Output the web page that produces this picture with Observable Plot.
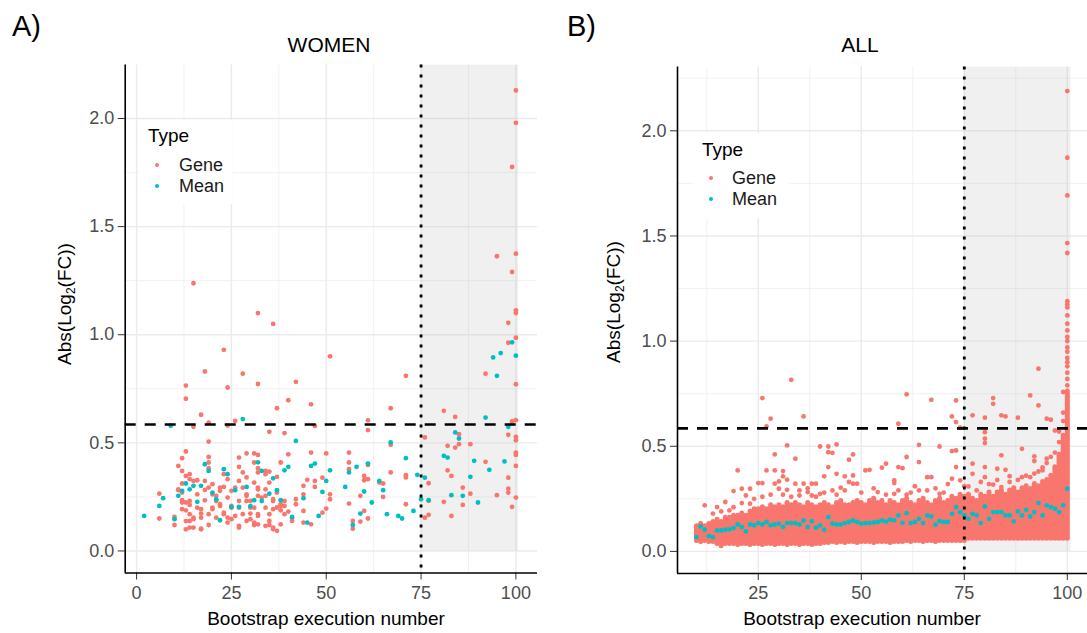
<!DOCTYPE html>
<html><head><meta charset="utf-8">
<script src="https://cdn.jsdelivr.net/npm/d3@7"></script>
<script src="https://cdn.jsdelivr.net/npm/@observablehq/plot@0.6"></script>
<style>
body{margin:0;background:#fff;font-family:"Liberation Sans",Arial,sans-serif}
#root{position:relative;width:1087px;height:633px;overflow:hidden;background:#fff}
.t{position:absolute;white-space:nowrap;line-height:1;color:#000}
</style></head>
<body><div id="root"></div>
<script>
// ---------- DATA ----------
const panelTitles = ["WOMEN", "ALL"];
const panelLetters = ["A)", "B)"];
const typeLabels = ["Gene", "Mean"];
const xTicksA = [0, 25, 50, 75, 100];
const xTicksB = [25, 50, 75, 100];
const yTicks = [0, 0.5, 1, 1.5, 2];
const threshold = 0.585;   // dashed line
const cutoff = 75;         // dotted line

// WOMEN – Gene points [execution, abs log2FC]
const womenGene = [
[32,1.10],[36,1.05],[23,0.93],[51,0.90],[18,0.83],[28,0.82],[71,0.81],[13,0.765],[24,0.756],[32,0.772],[42,0.782],
[13,0.704],[40,0.697],[46,0.678],[37,0.660],[67,0.660],[17,0.630],[19,0.593],[26,0.602],[24,0.580],[15,0.574],
[61,0.604],[61,0.559],[35,0.551],[39,0.545],[19,0.506],[47,0.578],[67,0.491],[15,1.238],
[100,2.13],[100,1.98],[99,1.776],[100,1.375],[95,1.363],[99,1.29],[100,1.113],[100,1.10],[98,1.055],[100,0.986],[98,0.963],
[92,0.82],[100,0.771],[81,0.648],[84,0.62],[76,0.525],[82,0.486],[84,0.478],[85,0.494],[85,0.540],[88,0.494],
[98,0.537],[99,0.599],[100,0.605],[99,0.59],[100,0.528],[100,0.512],[100,0.455],[100,0.444],[100,0.393],[98,0.339],
[98,0.288],[98,0.270],[99,0.204],[100,0.247],[95,0.258],[92,0.412],[88,0.265],[86,0.293],[86,0.213],[83,0.347],
[82,0.373],[81,0.227],[83,0.162],[77,0.313],[77,0.232],[77,0.167],[76,0.154],
[13,0.46],[12,0.429],[11,0.393],[12,0.37],[13,0.347],[14,0.332],[16,0.327],[11,0.281],[12,0.27],[6,0.265],[6,0.15],
[10,0.157],[10,0.12],[13,0.10],[14,0.139],[15,0.108],[15,0.154],[12,0.193],[12,0.235],[13,0.224],[14,0.213],[17,0.193],
[17,0.173],[17,0.103],[19,0.12],[18,0.324],[18,0.282],[20,0.309],[19,0.435],[19,0.409],[19,0.383],[21,0.255],[21,0.231],
[20,0.2],[22,0.208],[23,0.177],[24,0.154],[25,0.147],[24,0.332],[23,0.296],[22,0.278],[25,0.20],[27,0.116],[27,0.432],
[27,0.389],[29,0.451],[28,0.363],[29,0.34],[29,0.255],[29,0.231],[30,0.2],[30,0.173],[30,0.147],[31,0.12],[31,0.451],
[31,0.409],[32,0.363],[31,0.316],[32,0.285],[27,0.324],[28,0.293],[26,0.162],[25,0.278],
[11,0.285],[12,0.224],[12,0.312],[13,0.188],[13,0.138],[14,0.355],[14,0.17],[14,0.108],[14,0.231],[15,0.147],[15,0.324],
[16,0.262],[16,0.2],[17,0.1],[17,0.154],[18,0.234],[19,0.293],[19,0.17],[20,0.193],[20,0.262],[21,0.154],[22,0.293],
[22,0.216],[23,0.355],[23,0.17],[24,0.247],[24,0.131],[25,0.208],[26,0.293],[27,0.108],[27,0.231],[27,0.2],[28,0.17],
[29,0.262],[29,0.139],[30,0.231],[31,0.2],[31,0.131],[32,0.293],[32,0.17],[33,0.247],[34,0.116],[34,0.355],[34,0.2],
[35,0.17],[35,0.139],[36,0.1],[36,0.231],[37,0.27],[38,0.208],[39,0.17],[39,0.231],[40,0.447],[41,0.139],[42,0.216],
[44,0.262],
[32,0.444],[32,0.383],[34,0.37],[35,0.367],[35,0.316],[37,0.343],[38,0.409],[34,0.285],[34,0.255],[36,0.239],[36,0.193],
[37,0.201],[38,0.188],[38,0.216],[39,0.208],[40,0.182],[32,0.255],[32,0.162],[32,0.123],[35,0.12],[36,0.108],[37,0.093],
[38,0.123],[41,0.154],[42,0.239],[44,0.185],[44,0.301],[46,0.455],[45,0.329],[47,0.324],[47,0.296],[49,0.339],[50,0.451],
[51,0.262],[51,0.239],[50,0.196],[49,0.177],[46,0.123],[44,0.131],[56,0.455],[56,0.409],[56,0.378],[56,0.219],[57,0.139],
[57,0.103],[59,0.255],[59,0.136],[60,0.347],[60,0.327],[61,0.398],[61,0.332],[60,0.185],[61,0.15],[64,0.316],[65,0.312],
[65,0.25],[67,0.363],[71,0.35],[71,0.34],[71,0.216]
];
// WOMEN – Mean points
const womenMean = [
[2,0.162],[6,0.208],[7,0.244],[10,0.147],[11,0.255],[12,0.278],[13,0.312],[14,0.285],[15,0.301],[16,0.227],[17,0.301],
[18,0.401],[19,0.37],[20,0.27],[21,0.239],[22,0.142],[23,0.378],[24,0.355],[26,0.281],[25,0.204],[27,0.204],[29,0.296],
[30,0.207],[31,0.235],[32,0.41],[28,0.61],[9,0.579],[33,0.231],
[33,0.37],[36,0.336],[37,0.281],[35,0.265],[38,0.235],[40,0.389],[39,0.373],[42,0.509],[41,0.157],[44,0.244],[45,0.131],
[46,0.393],[47,0.404],[48,0.162],[49,0.273],[50,0.324],[51,0.373],[55,0.296],[56,0.363],[58,0.389],[57,0.12],[59,0.173],
[60,0.275],[61,0.404],[62,0.224],[64,0.324],[65,0.281],[66,0.17],[67,0.502],[69,0.162],[70,0.15],[71,0.429],[73,0.185],
[74,0.352],[75,0.239],
[99,0.965],[100,0.903],[94,0.895],[96,0.915],[95,0.81],[92,0.617],[98,0.574],[84,0.548],[85,0.52],[81,0.44],[82,0.432],
[89,0.417],[97,0.414],[93,0.375],[88,0.343],[76,0.339],[77,0.235],[83,0.258],[86,0.255],[90,0.224]
];

// ALL – dense core of Gene points: per execution, lower and upper edge of the solid band
const allCoreX = [10,11,12,13,14,15,16,17,18,19,20,21,22,23,24,25,26,27,28,29,30,31,32,33,34,35,36,37,38,39,40,
41,42,43,44,45,46,47,48,49,50,51,52,53,54,55,56,57,58,59,60,61,62,63,64,65,66,67,68,69,70,
71,72,73,74,75,76,77,78,79,80,81,82,83,84,85,86,87,88,89,90,91,92,93,94,95,96,97,98,99,100];
const allCoreLo = [0.05,0.045,0.05,0.045,0.045,0.035,0.025,0.035,0.035,0.035,0.03,0.035,0.035,0.03,0.035,0.035,0.03,0.035,0.035,0.03,0.035,
0.035,0.03,0.035,0.035,0.03,0.035,0.035,0.03,0.035,0.035,0.04,0.04,0.045,0.04,0.045,0.04,0.045,0.045,0.04,0.045,
0.045,0.045,0.04,0.045,0.045,0.045,0.04,0.045,0.045,0.045,0.05,0.045,0.05,0.05,0.045,0.05,0.05,0.045,0.05,0.05,
0.05,0.05,0.05,0.05,0.05,0.06,0.06,0.06,0.06,0.06,0.06,0.06,0.06,0.06,0.06,0.06,0.06,0.06,0.06,0.06,0.06,0.06,0.06,0.06,0.06,0.06,0.06,0.06,0.06,0.06];
const allCoreHi = [0.12,0.13,0.12,0.13,0.14,0.15,0.14,0.16,0.16,0.17,0.17,0.18,0.17,0.19,0.2,0.2,0.21,0.2,0.22,0.21,0.22,
0.21,0.23,0.22,0.23,0.22,0.21,0.23,0.22,0.21,0.22,0.23,0.22,0.21,0.23,0.24,0.22,0.22,0.23,0.24,0.23,
0.22,0.24,0.25,0.23,0.24,0.22,0.24,0.23,0.22,0.24,0.25,0.23,0.22,0.24,0.25,0.23,0.22,0.24,0.25,0.23,
0.24,0.26,0.25,0.27,0.26,0.27,0.25,0.24,0.27,0.26,0.28,0.26,0.28,0.29,0.27,0.29,0.3,0.28,0.3,0.31,0.29,0.32,0.31,0.33,0.34,0.36,0.4,0.46,0.55,0.76];
// ALL – scattered Gene points above the core
const allGene = [
[33,0.816],[26,0.729],[28,0.631],[27,0.594],[36,0.642],[32,0.504],[29,0.461],[34,0.441],[40,0.499],[42,0.499],[44,0.509],
[42,0.472],[43,0.469],[48,0.461],[47,0.436],[42,0.401],[46,0.357],[48,0.361],[20,0.385],[27,0.385],[29,0.385],[31,0.382],
[31,0.357],[32,0.341],[32,0.293],[30,0.333],[30,0.298],[29,0.322],[26,0.325],[25,0.325],[23,0.298],[21,0.298],[19,0.287],
[17,0.235],[12,0.219],[36,0.322],[38,0.322],[39,0.322],[40,0.274],[43,0.29],[37,0.282],[34,0.322],[35,0.266],[38,0.266],
[47,0.33],[45,0.303],[49,0.322],[41,0.357],[44,0.369],[15,0.211],[18,0.195],[22,0.266],[23,0.227],
[61,0.747],[67,0.721],[73,0.718],[82,0.729],[82,0.702],[91,0.742],[93,0.869],[93,0.694],[59,0.607],[72,0.642],[73,0.615],
[74,0.588],[77,0.647],[80,0.636],[84,0.647],[85,0.642],[88,0.636],[95,0.631],[96,0.626],[80,0.567],[80,0.536],[80,0.515],
[97,0.575],[64,0.507],[69,0.499],[72,0.477],[73,0.48],[89,0.488],[61,0.449],[84,0.457],[92,0.452],[95,0.441],[51,0.385],
[55,0.398],[56,0.417],[59,0.401],[60,0.396],[64,0.425],[73,0.401],[77,0.417],[80,0.401],[83,0.393],[85,0.388],[92,0.43],
[94,0.385],[48,0.322],[52,0.388],[58,0.338],[58,0.325],[66,0.353],[67,0.353],[72,0.346],[74,0.338],[77,0.369],[80,0.353],
[82,0.318],[86,0.358],[89,0.353],[91,0.353],[64,0.29],[69,0.274],[76,0.309],[84,0.306],[87,0.29],[91,0.3],[54,0.282],
[58,0.274],[61,0.27],[99,0.758],
[14,0.18],[16,0.19],[19,0.21],[21,0.23],[24,0.25],[26,0.26],[28,0.27],[31,0.27],[33,0.26],[35,0.29],[37,0.3],[39,0.26],
[41,0.28],[44,0.27],[46,0.29],[50,0.28],[53,0.3],[56,0.27],[59,0.29],[62,0.28],[63,0.31],[66,0.29],[68,0.3],[70,0.28],
[71,0.32],[75,0.31],[78,0.29],[79,0.33],[81,0.32],[83,0.34],[86,0.33],[88,0.34],[90,0.36],[92,0.37],[93,0.38],[94,0.4],
[95,0.42],[96,0.45],[97,0.47],[98,0.52],[99,0.62],[99,0.66],[98,0.57],
[100,2.189],[100,1.872],[100,1.693],[100,1.466],[100,1.419],[100,1.19],[100,1.175],[100,1.16],[100,1.122],[100,1.083],
[100,1.051],[100,1.02],[100,1.0],[100,0.97],[100,0.95],[100,0.92],[100,0.9],[100,0.88],[100,0.85],[100,0.82],[100,0.79]
];
// ALL – Mean points
const allMean = [
[10,0.068],[11,0.119],[12,0.103],[13,0.073],[14,0.068],[15,0.10],[16,0.10],[17,0.103],[18,0.105],[19,0.111],[20,0.128],
[21,0.116],[22,0.095],[23,0.128],[24,0.124],[25,0.135],[26,0.128],[27,0.14],[28,0.124],[29,0.128],[30,0.132],[31,0.116],
[32,0.135],[33,0.135],[34,0.135],[35,0.128],[36,0.147],[37,0.116],[38,0.144],[39,0.113],[40,0.124],[41,0.103],[42,0.163],
[43,0.132],[44,0.128],[45,0.128],[46,0.135],[47,0.14],[48,0.147],[49,0.14],[50,0.132],[51,0.135],[52,0.135],[53,0.138],
[54,0.14],[55,0.147],[56,0.142],[57,0.151],[58,0.148],[59,0.171],[60,0.136],[61,0.182],[62,0.135],[63,0.14],[64,0.155],
[65,0.135],[66,0.171],[67,0.166],[68,0.127],[69,0.144],[70,0.14],[71,0.14],[72,0.179],[73,0.211],[74,0.187],[75,0.171],
[76,0.155],[77,0.179],[78,0.171],[79,0.135],[80,0.214],[81,0.155],[82,0.187],[83,0.187],[84,0.187],[85,0.171],[86,0.171],
[87,0.143],[88,0.19],[89,0.171],[90,0.198],[91,0.166],[92,0.187],[93,0.23],[94,0.171],[95,0.219],[96,0.211],[97,0.203],
[98,0.187],[99,0.219],[100,0.298]
];

// ---------- DRAWING ----------
const GENE = "#F8766D", MEAN = "#00BFC4";
const R = 2.4;
const root = document.getElementById("root");
const FONT = "'Liberation Sans', Arial, Helvetica, sans-serif";

function panel(cfg) {
  const [x0, x1] = cfg.xDomain, [y0, y1] = cfg.yDomain;
  const marks = [
    Plot.ruleX(cfg.minorX, {x: d => d, stroke: "#ebebeb", strokeWidth: 0.7}),
    Plot.ruleY(cfg.minorY, {y: d => d, stroke: "#ebebeb", strokeWidth: 0.7}),
    Plot.ruleX(cfg.xTicks, {x: d => d, stroke: "#ebebeb", strokeWidth: 1.4}),
    Plot.ruleY(yTicks, {y: d => d, stroke: "#ebebeb", strokeWidth: 1.4}),
    Plot.rect([cfg.shade], {x1: d => d[0], x2: d => d[1], y1: d => d[2], y2: () => y1, fill: "#bebebe", fillOpacity: 0.23})
  ];
  if (cfg.core) {
    marks.push(Plot.ruleX(cfg.core.x, {x: d => d, y1: (d, i) => cfg.core.lo[i], y2: (d, i) => cfg.core.hi[i],
      stroke: GENE, strokeWidth: 5, strokeLinecap: "round"}));
  }
  marks.push(
    Plot.dot(cfg.gene, {x: d => d[0], y: d => d[1], r: R, fill: GENE}),
    Plot.dot(cfg.mean, {x: d => d[0], y: d => d[1], r: R, fill: MEAN}),
    Plot.ruleY([threshold], {y: d => d, stroke: "#000", strokeWidth: 2.6, strokeDasharray: "11,9"}),
    Plot.ruleX([cutoff], {x: d => d, stroke: "#000", strokeWidth: 2.8, strokeDasharray: "2.8,7.2"}),
    Plot.axisX(cfg.xTicks, {tickSize: 7, tickPadding: 6, tickFormat: d => String(d), stroke: "#333", fill: "#4d4d4d"}),
    Plot.axisY(yTicks, {tickSize: 7, tickPadding: 4, tickFormat: d3.format(".1f"), stroke: "#333", fill: "#4d4d4d"}),
    Plot.ruleX([x0], {x: d => d, stroke: "#000", strokeWidth: 1.6}),
    Plot.ruleY([y0], {y: d => d, stroke: "#000", strokeWidth: 1.6})
  );
  const svg = Plot.plot({
    width: cfg.width, height: 633,
    marginLeft: cfg.mL, marginRight: cfg.mR, marginTop: cfg.mT, marginBottom: cfg.mB,
    x: {domain: cfg.xDomain, label: null},
    y: {domain: cfg.yDomain, label: null},
    style: {fontFamily: FONT, fontSize: "18px", color: "#4d4d4d", background: "transparent", overflow: "visible"},
    marks
  });
  svg.style.position = "absolute";
  svg.style.left = cfg.left + "px";
  svg.style.top = "0px";
  root.appendChild(svg);
}

function text(html, css) {
  const d = document.createElement("div");
  d.className = "t";
  d.innerHTML = html;
  Object.assign(d.style, css);
  root.appendChild(d);
  return d;
}

function legend(box, titleX, titleY, itemX, dotX, itemY) {
  const b = document.createElement("div");
  Object.assign(b.style, {position: "absolute", left: box[0] + "px", top: box[1] + "px",
    width: box[2] + "px", height: box[3] + "px", background: "#fff"});
  root.appendChild(b);
  text("Type", {left: titleX + "px", top: titleY + "px", fontSize: "19px", transform: "translateY(-50%)"});
  [GENE, MEAN].forEach((c, i) => {
    const dot = document.createElement("div");
    Object.assign(dot.style, {position: "absolute", left: (dotX - R) + "px", top: (itemY[i] - R) + "px",
      width: (2 * R) + "px", height: (2 * R) + "px", borderRadius: "50%", background: c});
    root.appendChild(dot);
    text(typeLabels[i], {left: itemX + "px", top: itemY[i] + "px", fontSize: "18px", color: "#1a1a1a", transform: "translateY(-50%)"});
  });
}

// Panel A
panel({left: 0, width: 545, mL: 124.7, mR: 8, mT: 64.6, mB: 60.5,
  xDomain: [-3.0, 105.7], yDomain: [-0.102, 2.247], xTicks: xTicksA,
  minorX: [12.5, 37.5, 62.5, 87.5], minorY: [0.25, 0.75, 1.25, 1.75],
  shade: [75, 100.7, 0], gene: womenGene, mean: womenMean});
// Panel B
panel({left: 545, width: 542, mL: 132, mR: 0, mT: 66.6, mB: 60,
  xDomain: [5.4, 104.9], yDomain: [-0.105, 2.303], xTicks: xTicksB,
  minorX: [12.5, 37.5, 62.5, 87.5], minorY: [0.25, 0.75, 1.25, 1.75, 2.25],
  shade: [75, 100.9, 0], gene: allGene, mean: allMean,
  core: {x: allCoreX, lo: allCoreLo, hi: allCoreHi}});

// Letters and titles
text(panelLetters[0], {left: "12px", top: "26px", fontSize: "29px", transform: "translateY(-50%)"});
text(panelLetters[1], {left: "567px", top: "26px", fontSize: "29px", transform: "translateY(-50%)"});
text(panelTitles[0], {left: "329px", top: "44px", fontSize: "21px", transform: "translate(-50%,-50%)"});
text(panelTitles[1], {left: "860px", top: "44px", fontSize: "21px", transform: "translate(-50%,-50%)"});
// Axis titles
const xTitle = "Bootstrap execution number";
const yTitle = "Abs(Log<sub style='font-size:12px;line-height:0;vertical-align:-4px'>2</sub>(FC))";
text(xTitle, {left: "326px", top: "618px", fontSize: "19px", transform: "translate(-50%,-50%)"});
text(xTitle, {left: "862px", top: "618px", fontSize: "19px", transform: "translate(-50%,-50%)"});
text(yTitle, {left: "64px", top: "304px", fontSize: "19px", transform: "translate(-50%,-50%) rotate(-90deg)"});
text(yTitle, {left: "613px", top: "302px", fontSize: "19px", transform: "translate(-50%,-50%) rotate(-90deg)"});
// Legends
legend([139, 120, 93, 84], 148, 135, 179, 157, [165, 186]);
legend([693, 133, 96, 85], 702, 149, 732, 711, [178, 199]);
</script>
</body></html>
